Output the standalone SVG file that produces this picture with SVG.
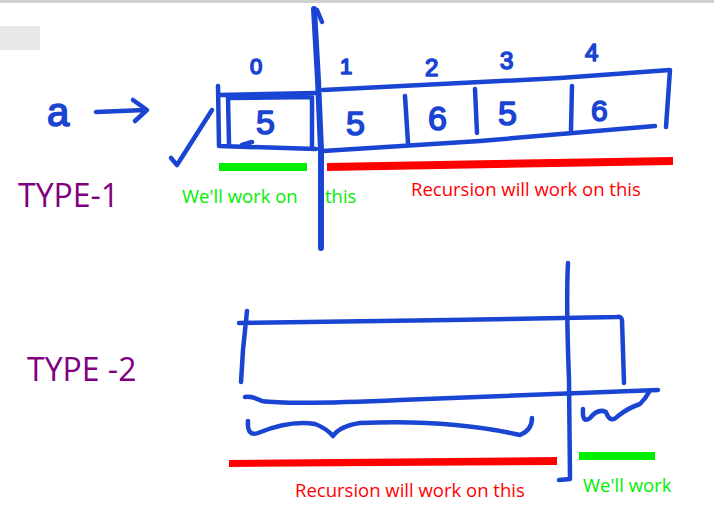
<svg xmlns="http://www.w3.org/2000/svg" width="714" height="511" viewBox="0 0 714 511">
<style>
.ink{fill:none;stroke:#1a44d2;stroke-width:4.5;stroke-linecap:round;stroke-linejoin:round}
.thick{stroke-width:6}
.hand{font-family:"Liberation Sans",sans-serif;fill:#1a44d2;stroke:#1a44d2;stroke-width:1.6;stroke-linejoin:round}
.lbl{font-family:"Open Sans","Noto Sans",sans-serif;font-size:18.5px}
.type{font-family:"Open Sans","Noto Sans",sans-serif;font-size:32px;fill:#800080}
.g{fill:#00ee00}
.r{fill:#ff0000}
</style>
<rect width="714" height="511" fill="#ffffff"/>
<rect x="0" y="0" width="714" height="3" fill="#d0d0d0"/>
<rect x="0" y="26" width="40" height="24" fill="#e8e8e8"/>

<!-- TYPE 1 -->
<text class="hand" x="47" y="126" font-size="40">a</text>
<path class="ink" d="M96 112 L145 110 M133 100 L147 110 L135 121"/>
<path class="ink" d="M171 158 L177 165 L212 110"/>
<!-- box 0 -->
<path class="ink" d="M218 86 L219 146 L316 149 M218 95 L316 93 M228 97 L229 144 M230 98 L312 97 L312 146 M242 145 L252 142"/>
<!-- box 1-4 -->
<path class="ink" d="M323 90 L560 78 L670 70 L666 127 M323 151 L480 141 L655 126"/>
<path class="ink" d="M405 96 L408 143 M475 89 L477 133 M572 86 L571 130"/>
<!-- main divider -->
<path class="ink thick" d="M314 9 L318 80 L321 150 L321 248"/>
<path class="ink" d="M317 10 L322 22"/>
<text class="hand" x="250" y="74" font-size="22">0</text>
<text class="hand" x="340" y="74" font-size="22">1</text>
<text class="hand" x="425" y="76" font-size="24">2</text>
<text class="hand" x="500" y="69" font-size="24">3</text>
<text class="hand" x="585" y="61" font-size="24">4</text>
<text class="hand" x="256" y="134" font-size="34">5</text>
<text class="hand" x="346" y="135" font-size="34">5</text>
<text class="hand" x="428" y="130" font-size="34">6</text>
<text class="hand" x="498" y="125" font-size="34">5</text>
<text class="hand" x="591" y="121" font-size="30">6</text>
<rect class="g" x="219" y="163" width="88" height="8"/>
<polygon class="r" points="327,163 673,157 673,165 327,171"/>
<text class="lbl g" x="182" y="203">We'll work on</text>
<text class="lbl g" x="325" y="203">this</text>
<text class="lbl r" x="411" y="196">Recursion will work on this</text>
<text class="type" x="18" y="207">TYPE-1</text>

<!-- TYPE 2 -->
<text class="type" x="27" y="381">TYPE -2</text>
<path class="ink" d="M247 311 L243 350 L241 382 M239 323 L450 320 L617 317 Q621 316 622 320 L624 383"/>
<path class="ink" d="M245 397 Q252 396 262 401 Q290 405 400 400 L658 390"/>
<path class="ink" d="M568 263 Q566 300 569 380 L570 479 L559 480"/>
<path class="ink" d="M248 421 Q247 437 258 433 Q290 420 315 424 Q326 428 333 436 Q340 426 360 423 Q450 419 520 435 Q532 430 532 418"/>
<path class="ink" d="M583 409 Q582 424 590 418 Q598 408 606 412 Q610 424 618 416 Q628 408 640 404 Q646 398 649 392"/>
<polygon class="r" points="229,460 557,457 557,465 229,467"/>
<rect class="g" x="579" y="452" width="76" height="8"/>
<text class="lbl r" x="295" y="497">Recursion will work on this</text>
<text class="lbl g" x="583" y="492">We'll work</text>
</svg>
